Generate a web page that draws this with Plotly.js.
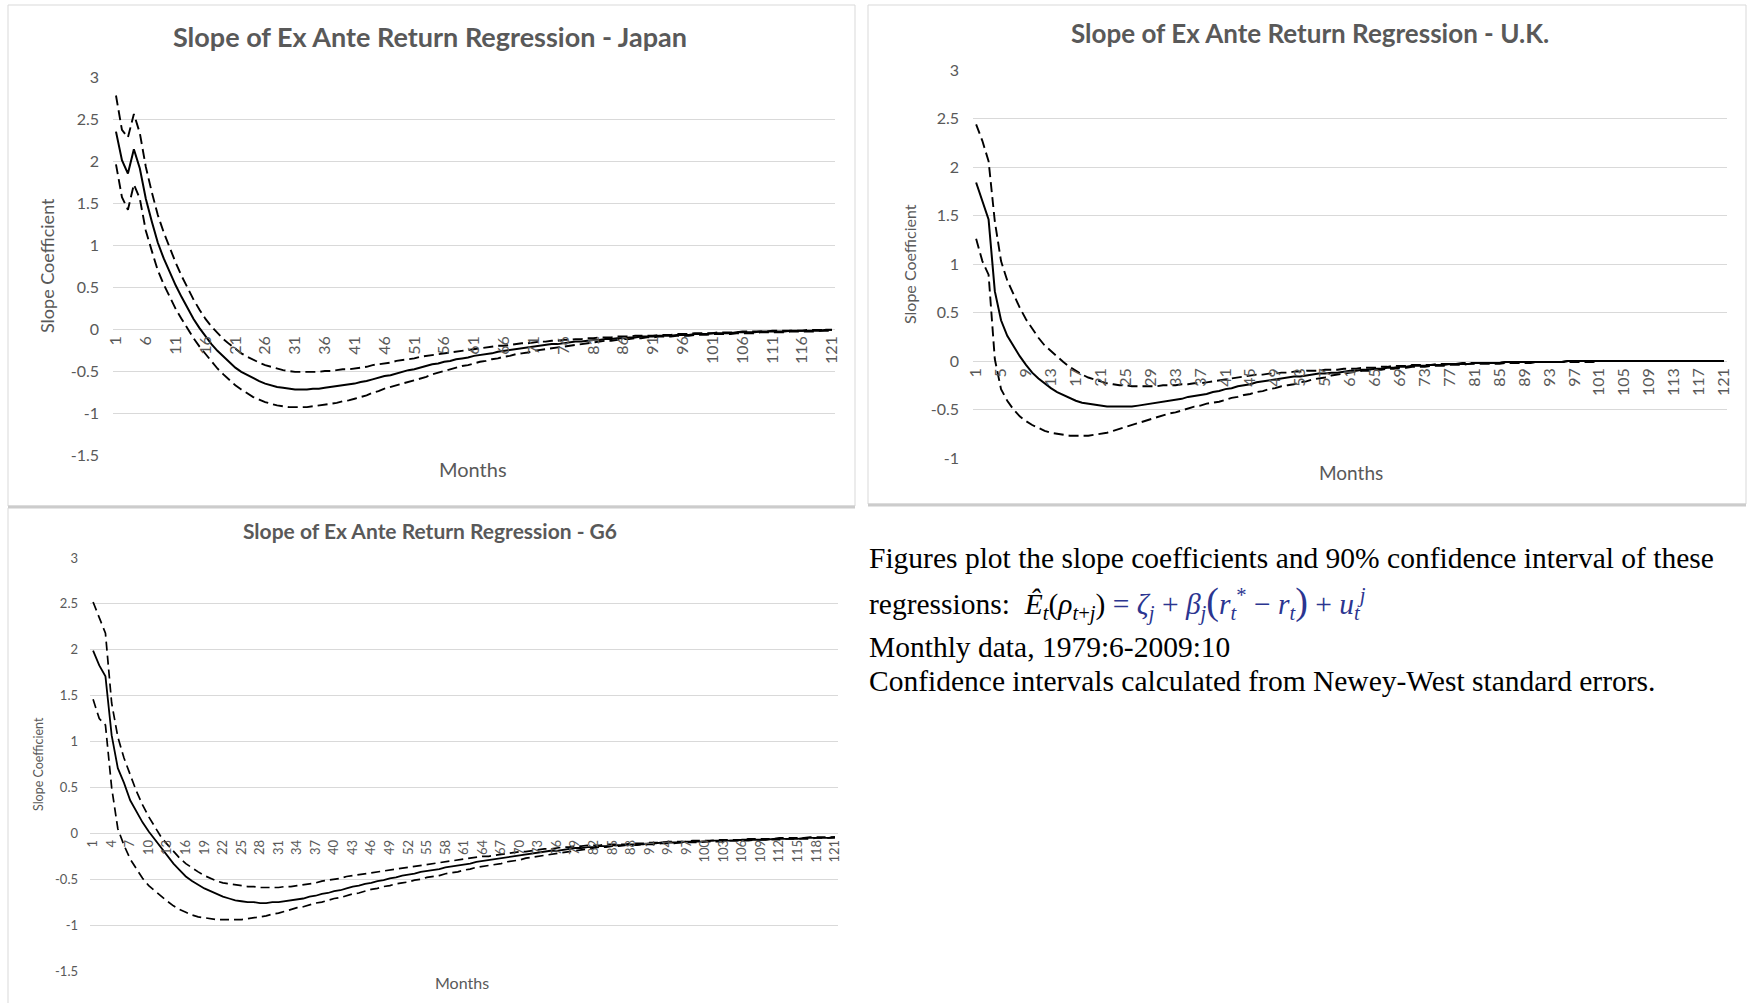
<!DOCTYPE html>
<html>
<head>
<meta charset="utf-8">
<script src="https://cdn.plot.ly/plotly-3.0.1.min.js"></script>
<style>
html,body{margin:0;padding:0;background:#ffffff;}
#chart{width:1747px;height:1003px;}
</style>
</head>
<body>
<div id="chart"></div>
<script>
// ---------- categories ----------
const months = Array.from({length: 121}, (_, i) => i + 1);

// ---------- Japan ----------
const japanBeta = [
 2.35, 2.01, 1.85, 2.14, 1.91, 1.55, 1.28, 1.03, 0.84, 0.67,
 0.52, 0.38, 0.25, 0.12, 0.01, -0.09, -0.18, -0.26, -0.33, -0.40,
 -0.46, -0.51, -0.55, -0.59, -0.62, -0.65, -0.67, -0.69, -0.70, -0.71,
 -0.72, -0.72, -0.72, -0.71, -0.71, -0.70, -0.69, -0.68, -0.67, -0.66,
 -0.65, -0.63, -0.62, -0.60, -0.58, -0.56, -0.55, -0.53, -0.51, -0.49,
 -0.48, -0.46, -0.44, -0.42, -0.41, -0.39, -0.38, -0.36, -0.35, -0.34,
 -0.32, -0.31, -0.30, -0.29, -0.27, -0.26, -0.25, -0.24, -0.23, -0.22,
 -0.21, -0.20, -0.19, -0.18, -0.18, -0.17, -0.16, -0.15, -0.15, -0.14,
 -0.13, -0.13, -0.12, -0.12, -0.11, -0.11, -0.10, -0.10, -0.09, -0.09,
 -0.09, -0.08, -0.08, -0.08, -0.07, -0.07, -0.07, -0.06, -0.06, -0.06,
 -0.05, -0.05, -0.05, -0.05, -0.04, -0.04, -0.04, -0.04, -0.03, -0.03,
 -0.03, -0.03, -0.03, -0.02, -0.02, -0.02, -0.02, -0.02, -0.02, -0.01,
 -0.01];
const japanUpper = [
 2.78, 2.37, 2.28, 2.56, 2.33, 1.93, 1.63, 1.36, 1.15, 0.96,
 0.79, 0.63, 0.49, 0.35, 0.23, 0.12, 0.03, -0.05, -0.12, -0.18,
 -0.24, -0.29, -0.33, -0.37, -0.40, -0.43, -0.45, -0.47, -0.49, -0.50,
 -0.51, -0.51, -0.51, -0.51, -0.51, -0.50, -0.50, -0.49, -0.48, -0.48,
 -0.47, -0.46, -0.45, -0.43, -0.42, -0.41, -0.40, -0.38, -0.37, -0.36,
 -0.35, -0.33, -0.32, -0.31, -0.30, -0.29, -0.28, -0.27, -0.26, -0.25,
 -0.24, -0.23, -0.22, -0.21, -0.20, -0.20, -0.19, -0.18, -0.17, -0.17,
 -0.16, -0.15, -0.15, -0.14, -0.14, -0.13, -0.13, -0.12, -0.12, -0.11,
 -0.11, -0.10, -0.10, -0.10, -0.09, -0.09, -0.09, -0.08, -0.08, -0.08,
 -0.08, -0.07, -0.07, -0.07, -0.06, -0.06, -0.06, -0.05, -0.05, -0.05,
 -0.05, -0.04, -0.04, -0.04, -0.04, -0.03, -0.03, -0.03, -0.03, -0.03,
 -0.02, -0.02, -0.02, -0.02, -0.02, -0.02, -0.01, -0.01, -0.01, -0.01,
 -0.01];
const japanLower = [
 1.96, 1.57, 1.42, 1.72, 1.55, 1.17, 0.93, 0.70, 0.53, 0.38,
 0.24, 0.12, 0.00, -0.11, -0.21, -0.30, -0.39, -0.47, -0.54, -0.61,
 -0.67, -0.72, -0.77, -0.81, -0.84, -0.87, -0.89, -0.91, -0.92, -0.93,
 -0.93, -0.93, -0.93, -0.92, -0.91, -0.90, -0.89, -0.88, -0.86, -0.85,
 -0.83, -0.81, -0.79, -0.76, -0.74, -0.71, -0.69, -0.67, -0.65, -0.63,
 -0.61, -0.59, -0.57, -0.54, -0.52, -0.50, -0.48, -0.46, -0.44, -0.43,
 -0.41, -0.39, -0.38, -0.36, -0.35, -0.33, -0.32, -0.30, -0.29, -0.28,
 -0.26, -0.25, -0.24, -0.23, -0.22, -0.21, -0.20, -0.19, -0.18, -0.17,
 -0.16, -0.15, -0.14, -0.14, -0.13, -0.12, -0.12, -0.11, -0.11, -0.10,
 -0.10, -0.09, -0.09, -0.09, -0.08, -0.08, -0.08, -0.07, -0.07, -0.07,
 -0.06, -0.06, -0.06, -0.06, -0.05, -0.05, -0.05, -0.05, -0.04, -0.04,
 -0.04, -0.04, -0.04, -0.03, -0.03, -0.03, -0.03, -0.03, -0.02, -0.02,
 -0.02];

// ---------- U.K. ----------
const ukBeta = [
 1.84, 1.66, 1.46, 0.72, 0.42, 0.26, 0.15, 0.05, -0.04, -0.12,
 -0.18, -0.23, -0.28, -0.32, -0.35, -0.38, -0.41, -0.43, -0.44, -0.45,
 -0.46, -0.47, -0.47, -0.47, -0.47, -0.47, -0.46, -0.45, -0.44, -0.43,
 -0.42, -0.41, -0.40, -0.39, -0.37, -0.36, -0.35, -0.34, -0.32, -0.31,
 -0.29, -0.28, -0.26, -0.25, -0.24, -0.22, -0.21, -0.20, -0.19, -0.18,
 -0.17, -0.16, -0.16, -0.15, -0.14, -0.13, -0.13, -0.12, -0.12, -0.11,
 -0.10, -0.10, -0.09, -0.09, -0.08, -0.08, -0.07, -0.07, -0.06, -0.06,
 -0.05, -0.05, -0.05, -0.04, -0.04, -0.04, -0.03, -0.03, -0.03, -0.03,
 -0.02, -0.02, -0.02, -0.02, -0.02, -0.01, -0.01, -0.01, -0.01, -0.01,
 -0.01, -0.01, -0.01, -0.01, -0.01, 0.00, 0.00, 0.00, 0.00, 0.00,
 0.00, 0.00, 0.00, 0.00, 0.00, 0.00, 0.00, 0.00, 0.00, 0.00,
 0.00, 0.00, 0.00, 0.00, 0.00, 0.00, 0.00, 0.00, 0.00, 0.00,
 0.00];
const ukUpper = [
 2.44, 2.27, 2.06, 1.44, 1.03, 0.83, 0.69, 0.55, 0.43, 0.33,
 0.24, 0.16, 0.10, 0.04, -0.01, -0.06, -0.10, -0.14, -0.17, -0.19,
 -0.21, -0.23, -0.24, -0.25, -0.25, -0.26, -0.26, -0.26, -0.26, -0.26,
 -0.25, -0.25, -0.25, -0.24, -0.24, -0.23, -0.23, -0.22, -0.21, -0.20,
 -0.19, -0.18, -0.17, -0.16, -0.15, -0.14, -0.14, -0.13, -0.13, -0.12,
 -0.12, -0.11, -0.11, -0.10, -0.10, -0.10, -0.09, -0.09, -0.09, -0.08,
 -0.08, -0.08, -0.07, -0.07, -0.07, -0.06, -0.06, -0.05, -0.05, -0.05,
 -0.04, -0.04, -0.04, -0.04, -0.03, -0.03, -0.03, -0.03, -0.02, -0.02,
 -0.02, -0.02, -0.02, -0.02, -0.02, -0.01, -0.01, -0.01, -0.01, -0.01,
 -0.01, -0.01, -0.01, -0.01, -0.01, 0.00, 0.00, 0.00, 0.00, 0.00,
 0.00, 0.00, 0.00, 0.00, 0.00, 0.00, 0.00, 0.00, 0.00, 0.00,
 0.00, 0.00, 0.00, 0.00, 0.00, 0.00, 0.00, 0.00, 0.00, 0.00,
 0.00];
const ukLower = [
 1.26, 1.03, 0.89, 0.02, -0.29, -0.41, -0.50, -0.57, -0.62, -0.66,
 -0.69, -0.72, -0.74, -0.75, -0.76, -0.77, -0.77, -0.77, -0.77, -0.76,
 -0.75, -0.74, -0.72, -0.70, -0.68, -0.66, -0.64, -0.62, -0.60, -0.58,
 -0.56, -0.54, -0.53, -0.51, -0.49, -0.47, -0.46, -0.44, -0.43, -0.42,
 -0.40, -0.38, -0.37, -0.35, -0.34, -0.32, -0.31, -0.29, -0.28, -0.26,
 -0.25, -0.24, -0.22, -0.21, -0.19, -0.18, -0.17, -0.15, -0.14, -0.13,
 -0.12, -0.11, -0.10, -0.10, -0.09, -0.09, -0.08, -0.08, -0.07, -0.07,
 -0.06, -0.06, -0.06, -0.05, -0.05, -0.05, -0.04, -0.04, -0.04, -0.03,
 -0.03, -0.03, -0.03, -0.03, -0.03, -0.02, -0.02, -0.02, -0.02, -0.02,
 -0.01, -0.01, -0.01, -0.01, -0.01, -0.01, -0.01, -0.01, -0.01, -0.01,
 0.00, 0.00, 0.00, 0.00, 0.00, 0.00, 0.00, 0.00, 0.00, 0.00,
 0.00, 0.00, 0.00, 0.00, 0.00, 0.00, 0.00, 0.00, 0.00, 0.00,
 0.00];

// ---------- G6 ----------
const g6Beta = [
 1.99, 1.83, 1.71, 1.07, 0.71, 0.55, 0.36, 0.24, 0.12, 0.02,
 -0.07, -0.16, -0.25, -0.33, -0.40, -0.47, -0.52, -0.56, -0.60, -0.63,
 -0.66, -0.69, -0.71, -0.73, -0.74, -0.75, -0.75, -0.76, -0.76, -0.75,
 -0.75, -0.74, -0.73, -0.72, -0.71, -0.69, -0.68, -0.66, -0.65, -0.63,
 -0.62, -0.60, -0.58, -0.57, -0.55, -0.54, -0.52, -0.51, -0.49, -0.48,
 -0.46, -0.45, -0.44, -0.42, -0.41, -0.40, -0.39, -0.37, -0.36, -0.35,
 -0.34, -0.33, -0.31, -0.30, -0.29, -0.28, -0.27, -0.26, -0.25, -0.24,
 -0.23, -0.22, -0.21, -0.20, -0.19, -0.19, -0.18, -0.17, -0.16, -0.16,
 -0.15, -0.15, -0.14, -0.14, -0.13, -0.13, -0.13, -0.12, -0.12, -0.12,
 -0.11, -0.11, -0.10, -0.10, -0.10, -0.10, -0.09, -0.09, -0.09, -0.09,
 -0.08, -0.08, -0.08, -0.08, -0.08, -0.07, -0.07, -0.07, -0.07, -0.07,
 -0.06, -0.06, -0.06, -0.06, -0.06, -0.05, -0.05, -0.05, -0.05, -0.05,
 -0.04];
const g6Upper = [
 2.52, 2.36, 2.18, 1.42, 1.05, 0.82, 0.63, 0.46, 0.31, 0.18,
 0.07, -0.04, -0.12, -0.20, -0.27, -0.33, -0.38, -0.42, -0.46, -0.49,
 -0.52, -0.54, -0.55, -0.56, -0.57, -0.58, -0.58, -0.59, -0.59, -0.59,
 -0.59, -0.58, -0.58, -0.57, -0.56, -0.55, -0.54, -0.52, -0.51, -0.50,
 -0.49, -0.47, -0.46, -0.45, -0.44, -0.43, -0.42, -0.41, -0.40, -0.39,
 -0.38, -0.37, -0.36, -0.35, -0.34, -0.33, -0.32, -0.31, -0.30, -0.29,
 -0.28, -0.27, -0.26, -0.25, -0.25, -0.24, -0.23, -0.22, -0.21, -0.20,
 -0.20, -0.19, -0.18, -0.17, -0.17, -0.16, -0.15, -0.15, -0.14, -0.14,
 -0.13, -0.13, -0.13, -0.12, -0.12, -0.12, -0.12, -0.11, -0.11, -0.11,
 -0.10, -0.10, -0.10, -0.09, -0.09, -0.09, -0.09, -0.08, -0.08, -0.08,
 -0.08, -0.07, -0.07, -0.07, -0.07, -0.07, -0.06, -0.06, -0.06, -0.06,
 -0.06, -0.05, -0.05, -0.05, -0.05, -0.05, -0.04, -0.04, -0.04, -0.04,
 -0.04];
const g6Lower = [
 1.46, 1.25, 1.18, 0.50, 0.05, -0.13, -0.28, -0.39, -0.49, -0.57,
 -0.63, -0.69, -0.74, -0.79, -0.83, -0.86, -0.89, -0.91, -0.92, -0.93,
 -0.94, -0.94, -0.94, -0.94, -0.94, -0.93, -0.92, -0.91, -0.90, -0.88,
 -0.87, -0.85, -0.83, -0.81, -0.80, -0.78, -0.76, -0.75, -0.73, -0.71,
 -0.70, -0.68, -0.66, -0.65, -0.63, -0.61, -0.60, -0.58, -0.57, -0.55,
 -0.54, -0.53, -0.51, -0.50, -0.48, -0.47, -0.46, -0.44, -0.43, -0.42,
 -0.40, -0.39, -0.37, -0.36, -0.35, -0.34, -0.33, -0.31, -0.30, -0.29,
 -0.27, -0.26, -0.25, -0.24, -0.23, -0.22, -0.21, -0.20, -0.19, -0.18,
 -0.17, -0.16, -0.15, -0.15, -0.14, -0.14, -0.13, -0.13, -0.13, -0.12,
 -0.12, -0.12, -0.11, -0.11, -0.11, -0.10, -0.10, -0.10, -0.10, -0.09,
 -0.09, -0.09, -0.09, -0.08, -0.08, -0.08, -0.08, -0.07, -0.07, -0.07,
 -0.07, -0.07, -0.06, -0.06, -0.06, -0.06, -0.06, -0.05, -0.05, -0.05,
 -0.05];

// ---------- tick labels ----------
const japanXTicks = [1,6,11,16,21,26,31,36,41,46,51,56,61,66,71,76,81,86,91,96,101,106,111,116,121];
const ukXTicks = [1,5,9,13,17,21,25,29,33,37,41,45,49,53,57,61,65,69,73,77,81,85,89,93,97,101,105,109,113,117,121];
const g6XTicks = [1,4,7,10,13,16,19,22,25,28,31,34,37,40,43,46,49,52,55,58,61,64,67,70,73,76,79,82,85,88,91,94,97,100,103,106,109,112,115,118,121];
const yTicksWide = [3, 2.5, 2, 1.5, 1, 0.5, 0, -0.5, -1, -1.5];
const yLabelsWide = ["3", "2.5", "2", "1.5", "1", "0.5", "0", "-0.5", "-1", "-1.5"];
const yTicksUK = [3, 2.5, 2, 1.5, 1, 0.5, 0, -0.5, -1];
const yLabelsUK = ["3", "2.5", "2", "1.5", "1", "0.5", "0", "-0.5", "-1"];

// ---------- texts ----------
const chartTitles = ["Slope of Ex Ante Return Regression - Japan", "Slope of Ex Ante Return Regression - U.K.", "Slope of Ex Ante Return Regression - G6"];
const yTitle = "Slope Coefficient";
const xTitle = "Months";
const noteLines = [
  "Figures plot the slope coefficients and 90% confidence interval of these",
  "regressions:&nbsp;&nbsp;<i>Ê</i><sub><i>t</i></sub>(<i>ρ</i><sub><i>t</i>+<i>j</i></sub>)<span style=\"color:#2b3590\">&nbsp;=&nbsp;<i>ζ</i><sub><i>j</i></sub>&nbsp;+&nbsp;<i>β</i><sub><i>j</i></sub><span style=\"font-size:38px\">(</span><i>r</i><sub><i>t</i></sub><sup>*</sup>&nbsp;−&nbsp;<i>r</i><sub><i>t</i></sub><span style=\"font-size:38px\">)</span>&nbsp;+&nbsp;<i>u</i><sub><i>t</i></sub><sup><i>j</i></sup></span>",
  "Monthly data, 1979:6-2009:10",
  "Confidence intervals calculated from Newey-West standard errors."
];

[japanBeta, japanUpper, japanLower, ukBeta, ukUpper, ukLower, g6Beta, g6Upper, g6Lower].forEach((a, i) => {
  if (a.length !== 121) throw new Error("series " + i + " has length " + a.length);
});

// ---------- layout helpers ----------
const W = 1747, H = 1003;
const fx = p => p / W;
const fy = p => 1 - p / H;
const FONT = "Lato, 'Open Sans', sans-serif";
const GREY = "#595959";

const panels = [
  {key: "", beta: japanBeta, up: japanUpper, lo: japanLower, xpx: [113, 835], ypx: [77, 455], yr: [-1.5, 3],
   xt: japanXTicks, yt: yTicksWide, yl: yLabelsWide, tick: 16, std: 13, lw: 2, dlw: 1.9, dash: "10px,5px",
   title: chartTitles[0], tpos: [430, 37], tsize: 27, ytpos: [47, 266], ytsize: 18, xtpos: [473, 469], xtsize: 20},
  {key: "2", beta: ukBeta, up: ukUpper, lo: ukLower, xpx: [973, 1727], ypx: [70, 458], yr: [-1, 3],
   xt: ukXTicks, yt: yTicksUK, yl: yLabelsUK, tick: 16, std: 13, lw: 2, dlw: 1.9, dash: "10px,5px",
   title: chartTitles[1], tpos: [1310, 33], tsize: 26, ytpos: [909, 264], ytsize: 16, xtpos: [1351, 472], xtsize: 19},
  {key: "3", beta: g6Beta, up: g6Upper, lo: g6Lower, xpx: [90, 838], ypx: [558, 971], yr: [-1.5, 3],
   xt: g6XTicks, yt: yTicksWide, yl: yLabelsWide, tick: 13, std: 11, lw: 1.8, dlw: 1.7, dash: "9px,5px",
   title: chartTitles[2], tpos: [430, 530], tsize: 21, ytpos: [38, 764], ytsize: 12.5, xtpos: [462, 982], xtsize: 16}
];

const data = [];
const layout = {
  width: W, height: H,
  margin: {l: 0, r: 0, t: 0, b: 0},
  paper_bgcolor: "#ffffff", plot_bgcolor: "rgba(0,0,0,0)",
  showlegend: false,
  annotations: [],
  shapes: []
};

panels.forEach(p => {
  const xa = "x" + p.key, ya = "y" + p.key;
  const common = {x: months, xaxis: xa, yaxis: ya, mode: "lines", hoverinfo: "skip"};
  data.push(Object.assign({}, common, {y: p.up, line: {color: "#000000", width: p.dlw, dash: p.dash}}));
  data.push(Object.assign({}, common, {y: p.lo, line: {color: "#000000", width: p.dlw, dash: p.dash}}));
  data.push(Object.assign({}, common, {y: p.beta, line: {color: "#000000", width: p.lw}}));

  const zeroPx = p.ypx[1] - (0 - p.yr[0]) / (p.yr[1] - p.yr[0]) * (p.ypx[1] - p.ypx[0]);
  layout["xaxis" + p.key] = {
    domain: [fx(p.xpx[0]), fx(p.xpx[1])],
    range: [0.5, 121.5],
    anchor: "free", position: fy(zeroPx),
    showgrid: false, zeroline: false, showline: false, ticks: "",
    tickmode: "array", tickvals: p.xt, ticktext: p.xt.map(String),
    tickangle: -90, ticklabelstandoff: 3,
    tickfont: {family: FONT, size: p.tick, color: GREY},
    fixedrange: true
  };
  layout["yaxis" + p.key] = {
    domain: [fy(p.ypx[1]), fy(p.ypx[0])],
    range: p.yr,
    anchor: xa,
    showgrid: true, gridcolor: "#d9d9d9", gridwidth: 1,
    zeroline: false, showline: false, ticks: "",
    tickmode: "array", tickvals: p.yt, ticktext: p.yl,
    ticklabelstandoff: p.std,
    tickfont: {family: FONT, size: p.tick, color: GREY},
    fixedrange: true
  };
  layout.annotations.push({
    text: "<b>" + p.title + "</b>", xref: "paper", yref: "paper",
    x: fx(p.tpos[0]), y: fy(p.tpos[1]), xanchor: "center", yanchor: "middle",
    showarrow: false, font: {family: FONT, size: p.tsize, color: GREY}
  });
  layout.annotations.push({
    text: yTitle, xref: "paper", yref: "paper", textangle: -90,
    x: fx(p.ytpos[0]), y: fy(p.ytpos[1]), xanchor: "center", yanchor: "middle",
    showarrow: false, font: {family: FONT, size: p.ytsize, color: GREY}
  });
  layout.annotations.push({
    text: xTitle, xref: "paper", yref: "paper",
    x: fx(p.xtpos[0]), y: fy(p.xtpos[1]), xanchor: "center", yanchor: "middle",
    showarrow: false, font: {family: FONT, size: p.xtsize, color: GREY}
  });
});

// note text block
const noteY = [558, 602, 647, 681];
noteLines.forEach((t, i) => {
  layout.annotations.push({
    text: t, xref: "paper", yref: "paper",
    x: fx(867), y: fy(noteY[i]), xanchor: "left", yanchor: "middle",
    showarrow: false, font: {family: "'Liberation Serif', 'Times New Roman', serif", size: 29.5, color: "#000000"}
  });
});

// frames around the charts
const frame = "#d9d9d9";
layout.shapes.push(
  {type: "rect", xref: "paper", yref: "paper", x0: fx(8), x1: fx(855), y0: fy(506), y1: fy(5), line: {color: frame, width: 1}},
  {type: "line", xref: "paper", yref: "paper", x0: fx(8), x1: fx(855), y0: fy(507), y1: fy(507), line: {color: "#cccccc", width: 3}},
  {type: "rect", xref: "paper", yref: "paper", x0: fx(868), x1: fx(1746), y0: fy(504), y1: fy(5), line: {color: frame, width: 1}},
  {type: "line", xref: "paper", yref: "paper", x0: fx(868), x1: fx(1746), y0: fy(505), y1: fy(505), line: {color: "#cccccc", width: 3}},
  {type: "line", xref: "paper", yref: "paper", x0: fx(8), x1: fx(8), y0: fy(508), y1: fy(1003), line: {color: frame, width: 1}}
);

Plotly.newPlot("chart", data, layout, {staticPlot: true, displayModeBar: false});
</script>
</body>
</html>
